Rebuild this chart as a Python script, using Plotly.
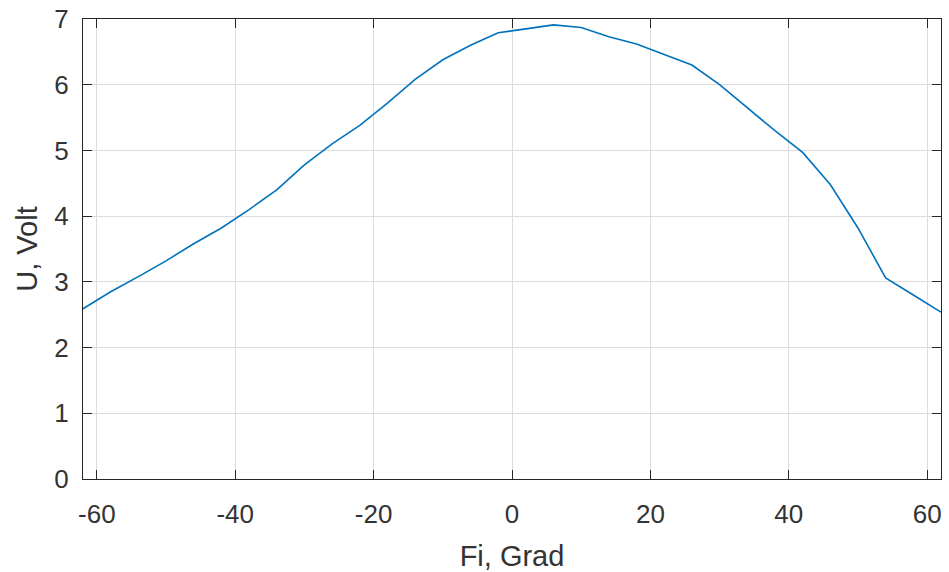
import plotly.graph_objects as go

fi_grad = [-62, -58, -54, -50, -46, -42, -38, -34, -30, -26, -22, -18, -14, -10, -6, -2,
           2, 6, 10, 14, 18, 22, 26, 30, 34, 38, 42, 46, 50, 54, 58, 62]
u_volt = [2.59, 2.85, 3.08, 3.32, 3.58, 3.82, 4.10, 4.40, 4.78, 5.10, 5.38, 5.72, 6.08, 6.38, 6.60, 6.79,
          6.85, 6.91, 6.87, 6.73, 6.62, 6.46, 6.30, 6.00, 5.65, 5.30, 4.97, 4.48, 3.82, 3.06, 2.80, 2.54]

x_ticks = [-60, -40, -20, 0, 20, 40, 60]
y_ticks = [0, 1, 2, 3, 4, 5, 6, 7]

FONT = "Liberation Sans, Arial, sans-serif"

fig = go.Figure()
fig.add_trace(go.Scatter(x=fi_grad, y=u_volt, mode="lines",
                         line=dict(color="#0072BD", width=1.6), showlegend=False, cliponaxis=False))

axis_common = dict(
    showline=True, linecolor="#262626", linewidth=1.2, mirror="ticks",
    ticks="inside", ticklen=9, tickcolor="#262626", tickwidth=1,
    showgrid=True, gridcolor="#dcdcdc", gridwidth=1, zeroline=False,
    tickfont=dict(family=FONT, size=26, color="#333333"), automargin=False,
    ticklabeloverflow="allow",
)

fig.update_layout(
    width=949, height=572,
    margin=dict(l=83, r=8, t=19, b=93),
    paper_bgcolor="white", plot_bgcolor="white",
    xaxis=dict(range=[-62, 62], tickvals=x_ticks, ticktext=[str(v) for v in x_ticks],
               ticklabelstandoff=12,
               title=dict(text="Fi, Grad", standoff=20,
                          font=dict(family=FONT, size=29, color="#333333")),
               **axis_common),
    yaxis=dict(range=[0, 7], tickvals=y_ticks, ticktext=[str(v) for v in y_ticks],
               ticklabelstandoff=8,
               title=dict(text="U, Volt", standoff=8,
                          font=dict(family=FONT, size=29, color="#333333")),
               **axis_common),
)

fig.write_html("out.html", config={"displayModeBar": False},
               post_script="document.body.style.margin='0';document.body.style.overflow='hidden';")
